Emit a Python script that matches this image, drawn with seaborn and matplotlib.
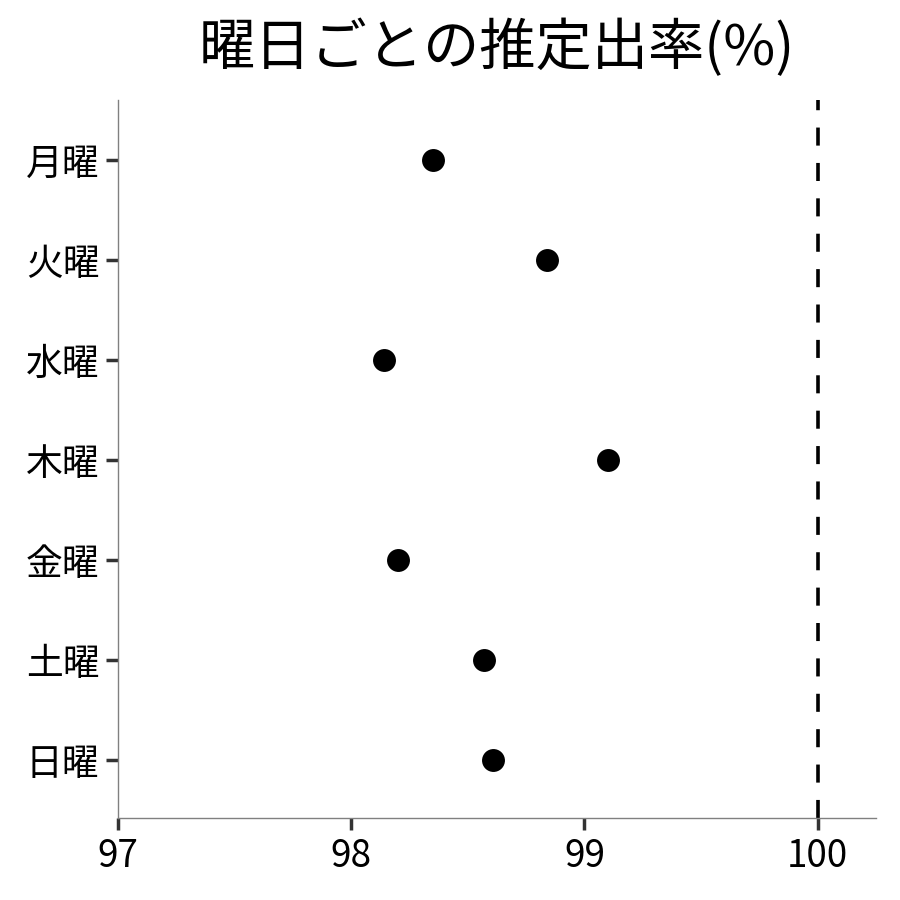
import matplotlib
matplotlib.use('Agg')
import matplotlib.pyplot as plt
import pandas as pd
import seaborn as sns

# 曜日ごとの推定出率
days = ['月曜', '火曜', '水曜', '木曜', '金曜', '土曜', '日曜']
rates = [98.35, 98.84, 98.14, 99.10, 98.20, 98.57, 98.61]
x_ticks = [97, 98, 99, 100]
ref_value = 100

sns.set_theme(style='ticks')
plt.rcParams['font.family'] = ['Noto Sans CJK JP', 'DejaVu Sans']

df = pd.DataFrame({'曜日': days, '出率': rates})

fig = plt.figure(figsize=(9, 9), dpi=100)
ax = fig.add_axes([0.1311, 0.0911, 0.8422, 0.7978])

sns.stripplot(data=df, x='出率', y='曜日', order=days, jitter=False,
              color='black', size=16.5, linewidth=0, ax=ax)
ax.axvline(ref_value, color='black', linewidth=2.6, dashes=(5, 4.8))

ax.set_xlim(97, 100.25)
ax.set_ylim(6.58, -0.6)
ax.set_xticks(x_ticks)
ax.set_xlabel('')
ax.set_ylabel('')
ax.set_title('曜日ごとの推定出率(%)', fontsize=40.5, color='black', pad=25)

sns.despine(ax=ax)
for side in ('left', 'bottom'):
    ax.spines[side].set_color('#808080')
    ax.spines[side].set_linewidth(1.0)
ax.tick_params(axis='both', length=8.5, width=2.5, color='#333333',
               labelsize=26.5, labelcolor='black', pad=5)

fig.savefig('out.png', dpi=100)
